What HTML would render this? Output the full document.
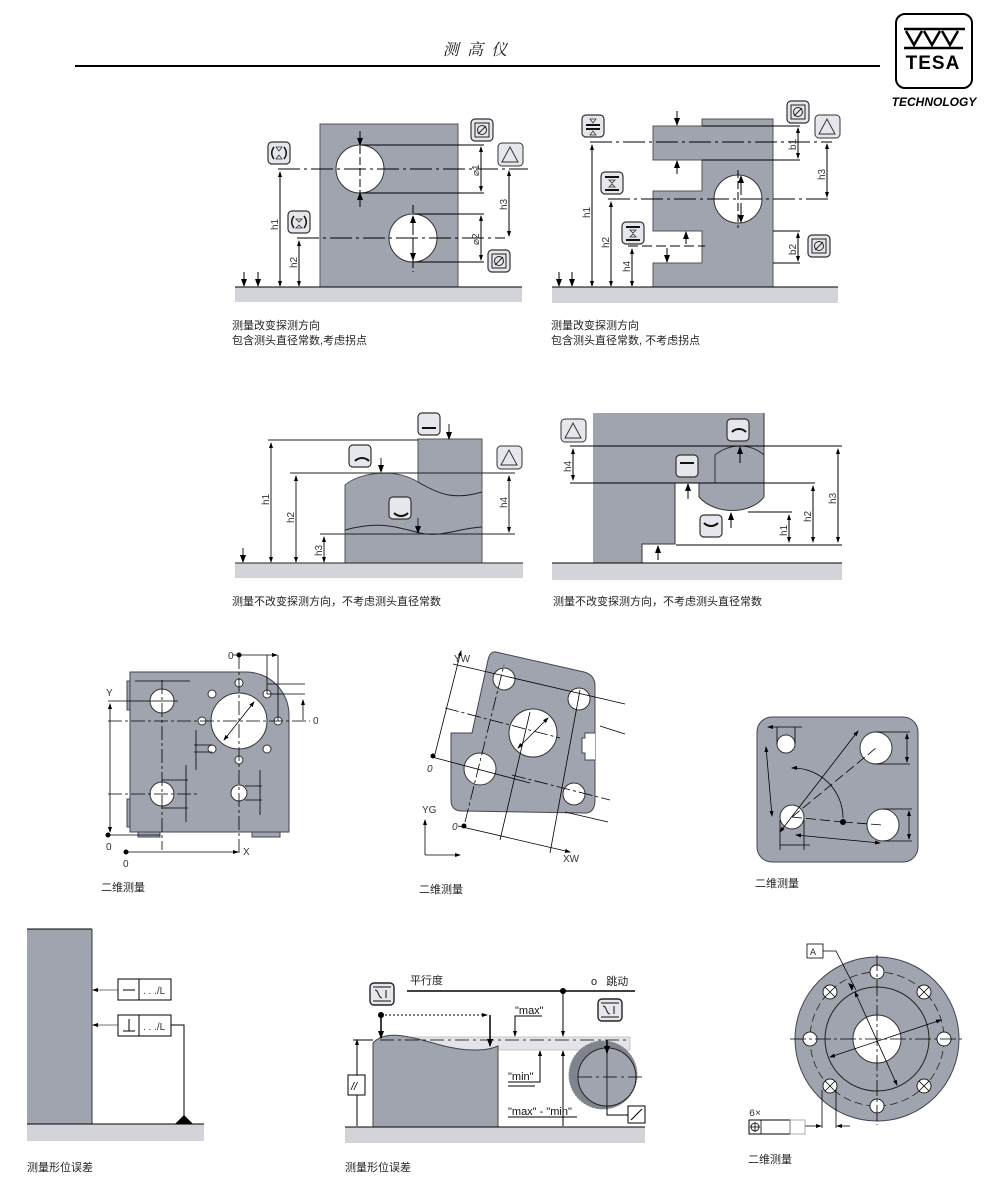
<!DOCTYPE html>
<html><head><meta charset="utf-8"><style>
body{margin:0;background:#fff}
svg{display:block}
text{font-family:"Liberation Sans","Noto Sans CJK SC",sans-serif}
.c{font-size:11px;fill:#222}
.d{font-family:"Liberation Mono",monospace;font-size:10px;fill:#333}
</style></head><body>
<svg width="1000" height="1181" viewBox="0 0 1000 1181" xmlns="http://www.w3.org/2000/svg">
<defs>
<marker id="a" markerWidth="8" markerHeight="8" refX="7" refY="4" orient="auto-start-reverse" markerUnits="userSpaceOnUse"><path d="M0,1L8,4L0,7Z" fill="#000"/></marker>
<marker id="s" markerWidth="6" markerHeight="6" refX="5" refY="3" orient="auto-start-reverse" markerUnits="userSpaceOnUse"><path d="M0,1L6,3L0,5Z" fill="#000"/></marker>
<g id="ib"><rect x="0" y="0" width="22" height="22" rx="4" fill="#e6e7ec" stroke="#333" stroke-width="1.2"/></g>
<g id="dia"><rect x="0" y="0" width="22" height="22" rx="4" fill="#e6e7ec" stroke="#333" stroke-width="1.2"/><rect x="4" y="4" width="14" height="14" fill="none" stroke="#222"/><circle cx="11" cy="11" r="4.5" fill="none" stroke="#222"/><line x1="7" y1="15" x2="15" y2="7" stroke="#222"/></g>
</defs>
<g stroke="#000" fill="none">
<line x1="75" y1="66" x2="880" y2="66" stroke-width="2"/>
<rect x="896" y="14" width="76" height="74" rx="9" stroke-width="2"/>
<path d="M904,29H965M906,31L914,45L922,31M924,31L932,45L940,31M942,31L950,45L958,31M904,48H963" stroke-width="2.5"/>
</g>
<text x="475" y="55" font-size="16" font-style="italic" text-anchor="middle" fill="#222" style="font-family:'Noto Serif CJK SC',serif">测 &#160;高 &#160;仪</text>
<text x="933" y="69" font-size="19" font-weight="bold" text-anchor="middle" fill="#000" letter-spacing="1">TESA</text>
<text x="934" y="106" font-size="12" font-weight="bold" font-style="italic" text-anchor="middle" fill="#000">TECHNOLOGY</text>

<!-- Diagram 1 -->
<rect x="235" y="287" width="287" height="15" fill="#d3d4d9"/>
<rect x="320" y="124" width="138" height="163" fill="#a0a4af" stroke="#555"/>
<circle cx="360" cy="169" r="24" fill="#fff" stroke="#333"/>
<circle cx="413" cy="238" r="24" fill="#fff" stroke="#333"/>
<g stroke="#000" fill="none" stroke-width="1">
<line x1="235" y1="287" x2="522" y2="287"/>
<line x1="278" y1="169" x2="528" y2="169" stroke-dasharray="22,4,3,4"/>
<line x1="297" y1="238" x2="505" y2="238" stroke-dasharray="22,4,3,4"/>
<line x1="360" y1="145" x2="484" y2="145"/><line x1="360" y1="193" x2="484" y2="193"/>
<line x1="413" y1="214" x2="484" y2="214"/><line x1="413" y1="262" x2="484" y2="262"/>
<line x1="360" y1="135" x2="360" y2="205" stroke-dasharray="8,3"/>
<line x1="413" y1="205" x2="413" y2="272" stroke-dasharray="8,3"/>
<line x1="280" y1="172" x2="280" y2="286" marker-start="url(#s)" marker-end="url(#s)"/>
<line x1="299" y1="241" x2="299" y2="286" marker-start="url(#s)" marker-end="url(#s)"/>
<line x1="481" y1="147" x2="481" y2="191" marker-start="url(#s)" marker-end="url(#s)"/>
<line x1="481" y1="216" x2="481" y2="260" marker-start="url(#s)" marker-end="url(#s)"/>
<line x1="509" y1="171" x2="509" y2="236" marker-start="url(#s)" marker-end="url(#s)"/>
<line x1="360" y1="131" x2="360" y2="145" marker-end="url(#a)"/>
<line x1="360" y1="207" x2="360" y2="193" marker-end="url(#a)"/>
<line x1="413" y1="235" x2="413" y2="216" marker-end="url(#a)"/>
<line x1="413" y1="241" x2="413" y2="260" marker-end="url(#a)"/>
<line x1="244" y1="272" x2="244" y2="286" marker-end="url(#a)"/>
<line x1="258" y1="272" x2="258" y2="286" marker-end="url(#a)"/>
</g>
<use href="#ib" x="268" y="142"/><use href="#ib" x="288" y="211"/><use href="#dia" x="471" y="119"/><use href="#dia" x="488" y="250"/>
<path d="M274,147c-3,4 -3,8 0,12M284,147c3,4 3,8 0,12M294,216c-3,4 -3,8 0,12M304,216c3,4 3,8 0,12" stroke="#111" stroke-width="1.5" fill="none"/>
<path d="M276,147h6l-3,4zM276,159h6l-3,-4zM296,219h6l-3,3zM296,228h6l-3,-3z" fill="none" stroke="#333" stroke-width="0.8"/>
<rect x="498" y="143" width="25" height="23" rx="4" fill="#e6e7ec" stroke="#333"/>
<path d="M502,162L510,147L518,162Z" stroke="#333" fill="none"/>
<g class="d"><text transform="translate(278,230) rotate(-90)">h1</text><text transform="translate(297,268) rotate(-90)">h2</text><text transform="translate(479,176) rotate(-90)">⌀1</text><text transform="translate(479,245) rotate(-90)">⌀2</text><text transform="translate(507,210) rotate(-90)">h3</text></g>
<text class="c" x="232" y="329">测量改变探测方向</text><text class="c" x="232" y="344">包含测头直径常数,考虑拐点</text>

<!-- Diagram 2 -->
<rect x="552" y="287" width="286" height="16" fill="#d3d4d9"/>
<path d="M702,119H773V287H653V263H702V231H653V191H702V160H653V126H702Z" fill="#a0a4af" stroke="#555"/>
<circle cx="738" cy="199" r="24" fill="#fff" stroke="#333"/>
<g stroke="#000" fill="none">
<line x1="552" y1="287" x2="838" y2="287"/>
<line x1="590" y1="142" x2="832" y2="142" stroke-dasharray="22,4,3,4"/>
<line x1="608" y1="199" x2="832" y2="199" stroke-dasharray="22,4,3,4"/>
<line x1="628" y1="246" x2="705" y2="246" stroke-dasharray="10,4"/>
<line x1="702" y1="126" x2="800" y2="126"/><line x1="702" y1="160" x2="800" y2="160"/>
<line x1="773" y1="231" x2="800" y2="231"/><line x1="773" y1="263" x2="800" y2="263"/>
<line x1="738" y1="170" x2="738" y2="228" stroke-dasharray="8,3"/>
<line x1="592" y1="145" x2="592" y2="286" marker-start="url(#s)" marker-end="url(#s)"/>
<line x1="611" y1="202" x2="611" y2="286" marker-start="url(#s)" marker-end="url(#s)"/>
<line x1="632" y1="249" x2="632" y2="286" marker-start="url(#s)" marker-end="url(#s)"/>
<line x1="798" y1="128" x2="798" y2="158" marker-start="url(#s)" marker-end="url(#s)"/>
<line x1="798" y1="233" x2="798" y2="261" marker-start="url(#s)" marker-end="url(#s)"/>
<line x1="827" y1="144" x2="827" y2="197" marker-start="url(#s)" marker-end="url(#s)"/>
<line x1="677" y1="111" x2="677" y2="125" marker-end="url(#a)"/>
<line x1="677" y1="174" x2="677" y2="161" marker-end="url(#a)"/>
<line x1="741" y1="195" x2="741" y2="176" marker-end="url(#a)"/>
<line x1="741" y1="203" x2="741" y2="222" marker-end="url(#a)"/>
<line x1="686" y1="244" x2="686" y2="232" marker-end="url(#a)"/>
<line x1="667" y1="248" x2="667" y2="262" marker-end="url(#a)"/>
<line x1="559" y1="272" x2="559" y2="286" marker-end="url(#a)"/>
<line x1="572" y1="272" x2="572" y2="286" marker-end="url(#a)"/>
</g>
<use href="#ib" x="582" y="115"/><use href="#ib" x="601" y="172"/><use href="#ib" x="622" y="222"/><use href="#dia" x="787" y="101"/><use href="#dia" x="808" y="235"/>
<rect x="815" y="115" width="25" height="23" rx="4" fill="#e6e7ec" stroke="#333"/>
<path d="M819,134L827,119L835,134Z" stroke="#333" fill="none"/>
<path d="M586,125h14M586,129h14M605,177h14M605,190h14M626,227h14M626,240h14" stroke="#111" stroke-width="2"/>
<path d="M590,119h6l-3,4zM590,135h6l-3,-4zM609,180h6l-3,3zM609,187h6l-3,-3zM630,230h6l-3,3zM630,237h6l-3,-3z" fill="none" stroke="#333" stroke-width="0.8"/>
<g class="d"><text transform="translate(590,218) rotate(-90)">h1</text><text transform="translate(609,248) rotate(-90)">h2</text><text transform="translate(630,272) rotate(-90)">h4</text><text transform="translate(796,150) rotate(-90)">b1</text><text transform="translate(796,255) rotate(-90)">b2</text><text transform="translate(825,180) rotate(-90)">h3</text></g>
<text class="c" x="551" y="329">测量改变探测方向</text><text class="c" x="551" y="344">包含测头直径常数, 不考虑拐点</text>

<!-- Diagram 3 -->
<rect x="235" y="563" width="288" height="15" fill="#d3d4d9"/>
<path d="M345,563V485C360,472 395,468 418,482L418,439H482V563Z" fill="#a0a4af" stroke="#555"/>
<g stroke="#222" fill="none">
<path d="M418,482C440,495 455,500 482,492"/>
<path d="M345,530C380,520 400,528 420,533C440,538 460,528 482,527"/>
<line x1="235" y1="563" x2="523" y2="563"/>
<line x1="268" y1="440" x2="418" y2="440"/>
<line x1="290" y1="473" x2="515" y2="473"/>
<line x1="320" y1="534" x2="515" y2="534"/>
<line x1="271" y1="443" x2="271" y2="562" marker-start="url(#s)" marker-end="url(#s)"/>
<line x1="296" y1="476" x2="296" y2="562" marker-start="url(#s)" marker-end="url(#s)"/>
<line x1="324" y1="537" x2="324" y2="562" marker-start="url(#s)" marker-end="url(#s)"/>
<line x1="509" y1="476" x2="509" y2="532" marker-start="url(#s)" marker-end="url(#s)"/>
<line x1="449" y1="424" x2="449" y2="439" marker-end="url(#a)"/>
<line x1="381" y1="458" x2="381" y2="472" marker-end="url(#a)"/>
<line x1="418" y1="518" x2="418" y2="533" marker-end="url(#a)"/>
<line x1="243" y1="548" x2="243" y2="562" marker-end="url(#a)"/>
</g>
<use href="#ib" x="418" y="413"/><use href="#ib" x="349" y="445"/><use href="#ib" x="389" y="497"/>
<rect x="497" y="446" width="25" height="23" rx="4" fill="#e6e7ec" stroke="#333"/>
<path d="M501,465L509,450L517,465Z" stroke="#333" fill="none"/>
<path d="M422,428h14M355,461c4,-4 10,-4 14,0M394,513c4,4 10,4 14,0" stroke="#111" stroke-width="2" fill="none"/>
<g class="d"><text transform="translate(269,505) rotate(-90)">h1</text><text transform="translate(294,523) rotate(-90)">h2</text><text transform="translate(322,556) rotate(-90)">h3</text><text transform="translate(507,508) rotate(-90)">h4</text></g>
<text class="c" x="232" y="605">测量不改变探测方向，不考虑测头直径常数</text>

<!-- Diagram 4 -->
<rect x="552" y="563" width="290" height="17" fill="#d3d4d9"/>
<path d="M593,413H764V497C750,515 715,515 699,497V483H675V544H642V563H593Z" fill="#a0a4af" stroke="none"/>
<g stroke="#333" fill="none">
<line x1="764" y1="413" x2="764" y2="497"/>
<path d="M764,497C750,515 715,515 699,497V483H675V544H642V563"/>
<path d="M715,483V455C730,443 750,443 764,455"/>
<line x1="552" y1="563" x2="842" y2="563" stroke="#000"/>
<line x1="570" y1="446" x2="842" y2="446" stroke="#000"/>
<line x1="570" y1="483" x2="815" y2="483" stroke="#000"/>
<line x1="748" y1="512" x2="792" y2="512" stroke="#000"/>
<line x1="676" y1="545" x2="842" y2="545" stroke="#000"/>
<line x1="573" y1="449" x2="573" y2="480" stroke="#000" marker-start="url(#s)" marker-end="url(#s)"/>
<line x1="789" y1="515" x2="789" y2="542" stroke="#000" marker-start="url(#s)" marker-end="url(#s)"/>
<line x1="813" y1="486" x2="813" y2="542" stroke="#000" marker-start="url(#s)" marker-end="url(#s)"/>
<line x1="838" y1="449" x2="838" y2="542" stroke="#000" marker-start="url(#s)" marker-end="url(#s)"/>
<line x1="740" y1="463" x2="740" y2="447" stroke="#000" marker-end="url(#a)"/>
<line x1="688" y1="499" x2="688" y2="484" stroke="#000" marker-end="url(#a)"/>
<line x1="731" y1="528" x2="731" y2="513" stroke="#000" marker-end="url(#a)"/>
<line x1="658" y1="560" x2="658" y2="546" stroke="#000" marker-end="url(#a)"/>
</g>
<use href="#ib" x="727" y="419"/><use href="#ib" x="676" y="455"/><use href="#ib" x="700" y="515"/>
<rect x="561" y="419" width="25" height="23" rx="4" fill="#e6e7ec" stroke="#333"/>
<path d="M565,438L573,423L581,438Z" stroke="#333" fill="none"/>
<path d="M732,432c4,-4 10,-4 14,0M680,463h14M704,523c4,4 10,4 14,0" stroke="#111" stroke-width="2" fill="none"/>
<g class="d"><text transform="translate(571,472) rotate(-90)">h4</text><text transform="translate(787,536) rotate(-90)">h1</text><text transform="translate(811,522) rotate(-90)">h2</text><text transform="translate(836,504) rotate(-90)">h3</text></g>
<text class="c" x="553" y="605">测量不改变探测方向，不考虑测头直径常数</text>

<!-- Diagram 7 -->
<path d="M130,672H246A43,43 0 0 1 289,715V832H130Z" fill="#a0a4af" stroke="#445"/>
<rect x="127" y="681" width="3" height="29" fill="#a0a4af" stroke="#445"/><rect x="127" y="799" width="3" height="28" fill="#a0a4af" stroke="#445"/>
<rect x="138" y="832" width="22" height="5" fill="#a0a4af" stroke="#445"/><rect x="252" y="832" width="28" height="5" fill="#a0a4af" stroke="#445"/>
<g fill="#fff" stroke="#333">
<circle cx="239" cy="721" r="28"/><circle cx="162" cy="701" r="12"/><circle cx="162" cy="794" r="12"/><circle cx="239" cy="793" r="8"/>
<circle cx="239" cy="683" r="4"/><circle cx="267" cy="694" r="4"/><circle cx="278" cy="721" r="4"/><circle cx="202" cy="721" r="4"/><circle cx="212" cy="694" r="4"/><circle cx="212" cy="749" r="4"/><circle cx="267" cy="749" r="4"/><circle cx="239" cy="760" r="4"/>
</g>
<g stroke="#000" fill="none" stroke-width="0.8">
<line x1="108" y1="721" x2="310" y2="721" stroke-dasharray="14,3,3,3"/>
<line x1="239" y1="655" x2="239" y2="855" stroke-dasharray="14,3,3,3"/>
<line x1="162" y1="680" x2="162" y2="850" stroke-dasharray="14,3,3,3"/>
<line x1="108" y1="701" x2="178" y2="701"/><line x1="108" y1="794" x2="200" y2="794" stroke-dasharray="14,3,3,3"/>
<line x1="110" y1="704" x2="110" y2="832" marker-start="url(#s)" marker-end="url(#s)"/>
<line x1="108" y1="835" x2="160" y2="835"/>
<line x1="126" y1="852" x2="238" y2="852" marker-end="url(#s)"/>
<line x1="233" y1="655" x2="277" y2="655" marker-end="url(#s)"/>
<line x1="267" y1="655" x2="267" y2="694"/><line x1="278" y1="655" x2="278" y2="721"/>
<line x1="267" y1="684" x2="305" y2="684"/><line x1="267" y1="694" x2="305" y2="694"/>
<line x1="303" y1="700" x2="303" y2="720" marker-start="url(#s)"/>
<line x1="224" y1="740" x2="254" y2="702" marker-start="url(#s)" marker-end="url(#s)"/>
<line x1="135" y1="681" x2="190" y2="681"/>
<line x1="162" y1="808" x2="188" y2="808"/><line x1="162" y1="780" x2="188" y2="780"/>
<line x1="186" y1="765" x2="186" y2="822"/>
<line x1="194" y1="745" x2="212" y2="745"/><line x1="194" y1="752" x2="212" y2="752"/><line x1="196" y1="730" x2="196" y2="770"/>
<line x1="245" y1="786" x2="262" y2="786"/><line x1="245" y1="800" x2="262" y2="800"/><line x1="260" y1="770" x2="260" y2="815"/>
</g>
<circle cx="108" cy="835" r="2.5"/><circle cx="126" cy="852" r="2.5"/><circle cx="239" cy="655" r="2.5"/>
<g class="d" font-size="9"><text x="106" y="696">Y</text><text x="106" y="850">0</text><text x="123" y="867">0</text><text x="243" y="855">X</text><text x="228" y="659">0</text><text x="313" y="724">0</text></g>
<text class="c" x="101" y="891">二维测量</text>

<!-- Diagram 8 -->
<path d="M496,652L584,672Q595,675 595,686V800Q595,814 583,813L462,811Q451,811 451,800V733H472L488,660Q490,651 496,652Z" fill="#a0a4af" stroke="#445"/>
<path d="M595,733h-10v5h-3v15h3v7h10" fill="#fff" stroke="#445"/>
<g fill="#fff" stroke="#333"><circle cx="504" cy="679" r="11"/><circle cx="579" cy="699" r="11"/><circle cx="533" cy="733" r="24"/><circle cx="480" cy="769" r="16"/><circle cx="574" cy="794" r="11"/></g>
<g stroke="#000" fill="none" stroke-width="0.8">
<line x1="453" y1="664" x2="625" y2="704"/><line x1="445" y1="708" x2="560" y2="738" stroke-dasharray="14,3,3,3"/>
<line x1="432" y1="757" x2="530" y2="783"/><line x1="512" y1="775" x2="610" y2="800" stroke-dasharray="14,3,3,3"/>
<line x1="565" y1="812" x2="608" y2="822"/><line x1="600" y1="726" x2="625" y2="734"/>
<line x1="435" y1="754" x2="461" y2="651" marker-end="url(#s)"/>
<line x1="465" y1="822" x2="504" y2="665" stroke-dasharray="14,3,3,3"/>
<line x1="500" y1="840" x2="530" y2="712"/><line x1="550" y1="853" x2="580" y2="690"/>
<line x1="458" y1="826" x2="570" y2="852" marker-end="url(#s)"/>
<line x1="518" y1="748" x2="548" y2="718" marker-start="url(#s)" marker-end="url(#s)"/>
<line x1="425" y1="855" x2="425" y2="820" marker-end="url(#s)"/><line x1="425" y1="855" x2="460" y2="855" marker-end="url(#s)"/>
</g>
<circle cx="433" cy="756" r="2.5"/><circle cx="464" cy="826" r="2.5"/>
<g class="d" font-size="9"><text x="454" y="662">YW</text><text x="427" y="772" font-style="italic">0</text><text x="452" y="830" font-style="italic">0</text><text x="422" y="813">YG</text><text x="563" y="862">XW</text></g>
<text class="c" x="419" y="893">二维测量</text>

<!-- Diagram 9 -->
<rect x="757" y="717" width="161" height="145" rx="15" fill="#a0a4af" stroke="#445"/>
<g fill="#fff" stroke="#333"><circle cx="786" cy="744" r="9"/><circle cx="876" cy="748" r="16"/><circle cx="792" cy="817" r="12"/><circle cx="883" cy="825" r="16"/></g>
<g stroke="#000" fill="none" stroke-width="0.8">
<line x1="768" y1="727" x2="802" y2="727" marker-start="url(#s)"/><line x1="777" y1="727" x2="777" y2="744"/><line x1="795" y1="727" x2="795" y2="744"/>
<line x1="876" y1="732" x2="910" y2="732"/><line x1="876" y1="764" x2="910" y2="764"/><line x1="907" y1="734" x2="907" y2="762" marker-start="url(#s)" marker-end="url(#s)"/>
<line x1="883" y1="809" x2="912" y2="809"/><line x1="883" y1="841" x2="912" y2="841"/><line x1="909" y1="811" x2="909" y2="839" marker-start="url(#s)" marker-end="url(#s)"/>
<line x1="766" y1="747" x2="772" y2="816" marker-start="url(#s)" marker-end="url(#s)"/>
<line x1="780" y1="832" x2="858" y2="731" marker-start="url(#s)" marker-end="url(#s)"/>
<line x1="792" y1="817" x2="876" y2="748" stroke-dasharray="10,4"/>
<line x1="792" y1="817" x2="843" y2="822" stroke-dasharray="10,4"/>
<line x1="843" y1="822" x2="883" y2="825" stroke-dasharray="10,4"/>
<path d="M792,768A50,50 0 0 1 843,818" marker-start="url(#s)"/>
<line x1="780" y1="845" x2="810" y2="845"/><line x1="780" y1="820" x2="780" y2="850"/><line x1="804" y1="820" x2="804" y2="850"/>
<line x1="796" y1="835" x2="880" y2="843" marker-start="url(#s)" marker-end="url(#s)"/>
</g>
<circle cx="843" cy="822" r="3"/>
<text class="c" x="755" y="887">二维测量</text>

<!-- Diagram 10 -->
<rect x="27" y="1124" width="177" height="17" fill="#d3d4d9"/>
<rect x="27" y="929" width="65" height="195" fill="#a0a4af"/>
<g stroke="#000" fill="none">
<line x1="27" y1="929" x2="92" y2="929"/><line x1="92" y1="929" x2="92" y2="1124" stroke="#334"/>
<line x1="27" y1="1124" x2="204" y2="1124"/>
<line x1="118" y1="990" x2="93" y2="990" stroke="#777" marker-end="url(#s)"/>
<line x1="118" y1="1025" x2="93" y2="1025" stroke="#777" marker-end="url(#s)"/>
<rect x="118" y="979" width="53" height="21"/><line x1="139" y1="979" x2="139" y2="1000"/>
<rect x="118" y="1015" width="53" height="21"/><line x1="139" y1="1015" x2="139" y2="1036"/>
<path d="M123,990h12M129,1019v12M123,1031h12"/>
<path d="M171,1025H184V1118"/>
</g>
<path d="M175,1124L184,1115L193,1124Z"/>
<g class="d"><text x="143" y="994">. . ./L</text><text x="143" y="1030">. . ./L</text></g>
<text class="c" x="27" y="1171">测量形位误差</text>

<!-- Diagram 11 -->
<rect x="345" y="1127" width="300" height="16" fill="#d3d4d9"/>
<rect x="380" y="1037" width="250" height="13" fill="#e3e4ea" stroke="#aaa" stroke-width="0.6"/>
<path d="M373,1127V1043C385,1030 405,1035 440,1045C470,1053 490,1050 498,1046V1127Z" fill="#a0a4af" stroke="#444"/>
<circle cx="603" cy="1075" r="34" fill="#7f838e" stroke="#888" stroke-dasharray="2,1"/>
<circle cx="607" cy="1077" r="29" fill="#a0a4af" stroke="#222"/>
<g stroke="#000" fill="none">
<line x1="345" y1="1127" x2="645" y2="1127"/>
<line x1="380" y1="1040" x2="630" y2="1040" stroke-dasharray="14,4,3,4" stroke-width="0.8"/>
<line x1="578" y1="1077" x2="646" y2="1077" stroke-dasharray="14,4,3,4" stroke-width="0.8"/>
<line x1="607" y1="1045" x2="607" y2="1108" stroke-width="0.8"/>
<line x1="407" y1="991" x2="635" y2="991" stroke-width="1.5"/>
<line x1="563" y1="991" x2="563" y2="1036" marker-end="url(#s)"/>
<line x1="563" y1="1126" x2="563" y2="1051" marker-end="url(#s)"/>
<line x1="381" y1="1015" x2="487" y2="1015" stroke-dasharray="2,2" marker-end="url(#s)"/>
<line x1="381" y1="1015" x2="381" y2="1038" stroke-width="1.5" marker-end="url(#a)"/>
<line x1="490" y1="1015" x2="490" y2="1046" stroke-width="1.5" marker-end="url(#a)"/>
<path d="M542,1016H515V1036" marker-end="url(#s)"/>
<path d="M508,1082H540V1051" marker-end="url(#s)"/>
<line x1="508" y1="1086" x2="535" y2="1086"/>
<line x1="508" y1="1117" x2="577" y2="1117"/>
<line x1="357" y1="1040" x2="357" y2="1126" marker-start="url(#s)"/>
<line x1="353" y1="1040" x2="373" y2="1040"/>
<line x1="607" y1="1040" x2="607" y2="1053" stroke-width="1.5" marker-end="url(#a)"/>
<path d="M607,1108V1115H628"/>
<rect x="628" y="1106" width="17" height="17" fill="#fff"/><line x1="631" y1="1120" x2="642" y2="1109"/>
<rect x="348" y="1075" width="17" height="20" fill="#fff"/>
</g>
<circle cx="563" cy="991" r="3"/><circle cx="381" cy="1015" r="3"/>
<text x="351" y="1090" font-size="11" font-style="italic">//</text>
<rect x="370" y="983" width="24" height="22" rx="4" fill="#e6e7ec" stroke="#222" stroke-width="1.4"/>
<rect x="598" y="999" width="24" height="22" rx="4" fill="#e6e7ec" stroke="#222" stroke-width="1.4"/>
<path d="M373,987h18M373,1001h18M375,990c4,0 3,8 7,8M386,990v8M601,1003h18M601,1017h18M603,1006c4,0 3,8 7,8M614,1006v8" stroke="#111" fill="none"/>
<text class="c" x="410" y="984">平行度</text><text class="c" x="591" y="985">o&#160;&#160;&#160;跳动</text>
<g font-size="11" fill="#111"><text x="515" y="1014">"max"</text><text x="508" y="1080">"min"</text><text x="508" y="1115">"max" - "min"</text></g>
<text class="c" x="345" y="1171">测量形位误差</text>

<!-- Diagram 12 -->
<circle cx="877" cy="1039" r="82" fill="#a0a4af" stroke="#445"/>
<circle cx="877" cy="1039" r="67" fill="none" stroke="#222" stroke-dasharray="8,4" stroke-width="0.8"/>
<circle cx="877" cy="1039" r="52" fill="none" stroke="#222"/>
<circle cx="877" cy="1039" r="24" fill="#fff" stroke="#333"/>
<g fill="#fff" stroke="#222">
<circle cx="877" cy="972" r="7"/><circle cx="924" cy="992" r="7"/><circle cx="944" cy="1039" r="7"/><circle cx="924" cy="1086" r="7"/><circle cx="877" cy="1106" r="7"/><circle cx="830" cy="1086" r="7"/><circle cx="810" cy="1039" r="7"/><circle cx="830" cy="992" r="7"/>
</g>
<g stroke="#000" fill="none" stroke-width="0.8">
<path d="M919,987l10,10M929,987l-10,10M919,1081l10,10M929,1081l-10,10M825,1081l10,10M835,1081l-10,10M825,987l10,10M835,987l-10,10"/>
<line x1="790" y1="1039" x2="962" y2="1039" stroke-dasharray="16,3,3,3"/>
<line x1="877" y1="955" x2="877" y2="1125" stroke-dasharray="16,3,3,3"/>
<line x1="830" y1="1057" x2="941" y2="1020" marker-start="url(#s)" marker-end="url(#s)"/>
<line x1="855" y1="992" x2="897" y2="1085" marker-start="url(#s)" marker-end="url(#s)"/>
<path d="M823,951H836L856,990"/>
<rect x="807" y="944" width="16" height="14" fill="#fff"/>
<line x1="822" y1="1090" x2="822" y2="1128"/><line x1="836" y1="1090" x2="836" y2="1128"/>
<line x1="805" y1="1126" x2="821" y2="1126" marker-end="url(#s)"/><line x1="850" y1="1126" x2="837" y2="1126" marker-end="url(#s)"/>
<rect x="749" y="1120" width="41" height="14" fill="#fff" stroke-width="1"/><line x1="761" y1="1120" x2="761" y2="1134"/>
<rect x="790" y="1120" width="15" height="14" stroke="#999"/>
<circle cx="755" cy="1127" r="4"/><path d="M750,1127h10M755,1122v10"/>
</g>
<path d="M854,985l-6,-2l4,8z"/>
<text x="810" y="955" font-size="10" class="d">A</text>
<text x="749" y="1116" class="d" font-size="9">6×</text>
<text class="c" x="748" y="1163">二维测量</text>
</svg>
</body></html>
